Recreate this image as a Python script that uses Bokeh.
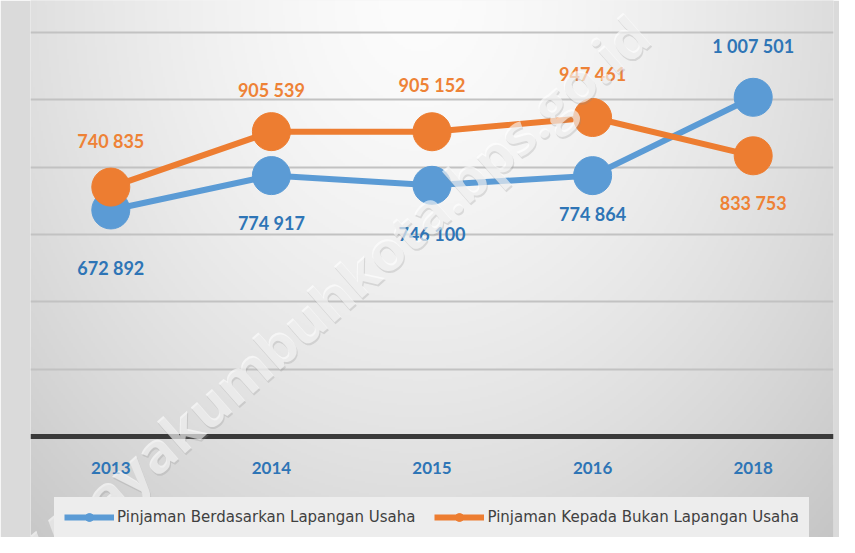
import numpy as np
from bokeh.plotting import figure
from bokeh.models import (ColumnDataSource, FixedTicker, Legend, LegendItem,
                          Label, Span)
from bokeh.core.properties import value
from bokeh.embed import file_html
from bokeh.resources import INLINE

# ---- data ----
years = ["2013", "2014", "2015", "2016", "2018"]
lapangan_usaha = [672892, 774917, 746100, 774864, 1007501]
bukan_lapangan_usaha = [740835, 905539, 905152, 947461, 833753]
series_names = ["Pinjaman Berdasarkan Lapangan Usaha",
                "Pinjaman Kepada Bukan Lapangan Usaha"]
grid_values = [200000, 400000, 600000, 800000, 1000000, 1200000]
watermark = "https://payakumbuhkota.bps.go.id"

# label placement (pixels, positive = downward)
blue_label_offset = [58, 47, 49, 38, -51]
orange_label_offset = [-46, -42, -47, -44, 47]

BLUE = "#5B9BD5"
BLUE_TXT = "#2E75B6"
ORANGE = "#ED7D31"
ORANGE_TXT = "#EE8236"

# ---- layout geometry (pixels) ----
W, H = 839, 537
FRAME_L, FRAME_R = 30, 6
PX_PER_UNIT = 404 / 1200000          # vertical scale
ZERO_FROM_TOP = 436                  # pixel row of value 0
Y_MAX = ZERO_FROM_TOP / PX_PER_UNIT
Y_MIN = -(H - ZERO_FROM_TOP) / PX_PER_UNIT


def fmt(v):
    return f"{v:,}".replace(",", " ")


src_b = ColumnDataSource(dict(x=years, y=lapangan_usaha,
                              t=[fmt(v) for v in lapangan_usaha],
                              off=blue_label_offset))
src_o = ColumnDataSource(dict(x=years, y=bukan_lapangan_usaha,
                              t=[fmt(v) for v in bukan_lapangan_usaha],
                              off=orange_label_offset))
src_ticks = ColumnDataSource(dict(x=years, y=[0] * len(years), t=years))

p = figure(x_range=years, y_range=(Y_MIN, Y_MAX), width=W, height=H,
           output_backend="svg", toolbar_location=None,
           min_border_left=FRAME_L, min_border_right=FRAME_R,
           min_border_top=0, min_border_bottom=0)

p.background_fill_color = "#ececec"
p.border_fill_color = "#dadada"
p.outline_line_color = None

# soft background shading (light at the top centre, greyer to the edges)
fw, fh = W - FRAME_L - FRAME_R, H
cols, rows = fw // 2 + 1, fh // 2 + 1
gx = (np.arange(cols) + 0.5) * 2 + FRAME_L
gy = H - (np.arange(rows) + 0.5) * 2             # row 0 = bottom
XX, YY = np.meshgrid(gx, gy)
d = np.sqrt(((XX - 420) / 420) ** 2 + (YY / 520) ** 2)
shade = np.clip(252 - 32 * d ** 1.5, 190, 253).astype(np.uint32)
img = (255 << 24) | (shade << 16) | (shade << 8) | shade
p.image_rgba(image=[img.astype(np.uint32)], x=0, y=Y_MIN,
             dw=len(years) * cols * 2 / fw, dh=(Y_MAX - Y_MIN) * rows * 2 / fh,
             level="image")

p.xaxis.visible = False
p.yaxis.visible = False
p.xgrid.visible = False
p.ygrid.ticker = FixedTicker(ticks=grid_values)
p.ygrid.grid_line_color = "#c2c2c2"
p.ygrid.grid_line_width = 2

zero_line = Span(location=0, dimension="width", line_color="#3a3a3a",
                 line_width=5)
p.add_layout(zero_line)

# category labels under the zero line
p.text("x", "y", text="t", source=src_ticks, y_offset=31,
       text_font=value("Lato"), text_font_style="bold", text_font_size="17px",
       text_color=BLUE_TXT, text_align="center", text_baseline="middle")

lb = p.line("x", "y", source=src_b, line_color=BLUE, line_width=6)
sb = p.scatter("x", "y", source=src_b, size=38, fill_color=BLUE, line_color=BLUE)
lo = p.line("x", "y", source=src_o, line_color=ORANGE, line_width=6)
so = p.scatter("x", "y", source=src_o, size=38, fill_color=ORANGE, line_color=ORANGE)

p.text("x", "y", text="t", source=src_b, y_offset="off",
       text_font=value("Lato"), text_font_style="bold", text_font_size="18px",
       text_color=BLUE_TXT, text_align="center", text_baseline="middle")
p.text("x", "y", text="t", source=src_o, y_offset="off",
       text_font=value("Lato"), text_font_style="bold", text_font_size="18px",
       text_color=ORANGE_TXT, text_align="center", text_baseline="middle")

legend = Legend(items=[LegendItem(label=series_names[0], renderers=[lb, sb]),
                       LegendItem(label=series_names[1], renderers=[lo, so])],
                orientation="horizontal", location=(24, 0))
legend.background_fill_color = "#ededed"
legend.background_fill_alpha = 1
legend.border_line_color = "#ededed"
legend.border_line_width = 1
legend.label_text_font = "DejaVu Sans"
legend.label_text_font_size = "15px"
legend.label_text_color = "#404040"
legend.glyph_width = 50
legend.glyph_height = 20
legend.label_standoff = 3
legend.spacing = 19
legend.padding = 9
legend.margin = 0
p.add_layout(legend, "center")

# watermark (embossed look: grey shadow + white face)
wm_shadow = Label(x=244, y=189, x_units="screen", y_units="screen",
                  text=watermark, angle=0.72,
                  text_font="Open Sans", text_font_style="bold",
                  text_font_size="56px", text_color="#8a8a8a", text_alpha=0.25,
                  text_align="center", text_baseline="middle")
wm_face = Label(x=243, y=191, x_units="screen", y_units="screen",
                text=watermark, angle=0.72,
                text_font="Open Sans", text_font_style="bold",
                text_font_size="56px", text_color="white", text_alpha=0.6,
                text_align="center", text_baseline="middle")
p.add_layout(wm_shadow)
p.add_layout(wm_face)

open("out.html", "w").write(file_html(p, INLINE))
